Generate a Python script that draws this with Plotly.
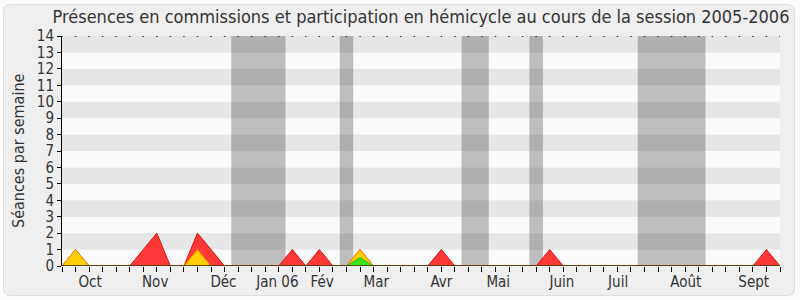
import plotly.graph_objects as go

# ---- data ----
weeks = list(range(0, 54))
red_vals = [0]*54
yellow_vals = [0]*54
green_vals = [0]*54
# red (total présences)
red_points = {1: 1, 6: 1, 7: 2, 10: 2, 11: 1, 17: 1, 19: 1, 22: 1, 28: 1, 36: 1, 52: 1}
yellow_points = {1: 1, 10: 1, 22: 1}
green_points = {22: 0.5}
for k, v in red_points.items():
    red_vals[k] = v
for k, v in yellow_points.items():
    yellow_vals[k] = v
for k, v in green_points.items():
    green_vals[k] = v

vacations = [(12.5, 16.5), (20.5, 21.5), (29.5, 31.5), (34.5, 35.5), (42.5, 47.5)]
month_labels = ["Oct", "Nov", "Déc", "Jan 06", "Fév", "Mar", "Avr", "Mai", "Juin", "Juil", "Août", "Sept"]
month_pos = [2.07, 6.88, 11.92, 15.9, 19.2, 23.2, 28.0, 32.2, 36.9, 41.05, 46.05, 51.06]
y_ticks = list(range(0, 15))

FONT = "DejaVu Sans Condensed, DejaVu Sans, sans-serif"

# layout geometry
W, H = 800, 300
L, R, T, B = 62, 20, 36, 34
pw, ph = W - L - R, H - T - B

def px_to_paper(x, y):
    return (x - L) / pw, (H - B - y) / ph

fig = go.Figure()

shapes = []
# rounded background panel
x0, y0, x1, y1, r = 3.5, 4.5, 794.5, 295.5, 7
def P(x, y):
    a, b = px_to_paper(x, y)
    return f"{a:.5f},{b:.5f}"
path = (f"M {P(x0+r, y0)} L {P(x1-r, y0)} Q {P(x1, y0)} {P(x1, y0+r)} "
        f"L {P(x1, y1-r)} Q {P(x1, y1)} {P(x1-r, y1)} L {P(x0+r, y1)} "
        f"Q {P(x0, y1)} {P(x0, y1-r)} L {P(x0, y0+r)} Q {P(x0, y0)} {P(x0+r, y0)} Z")
shapes.append(dict(type="path", xref="paper", yref="paper", path=path,
                   fillcolor="#efefef", line=dict(color="#dedede", width=1), layer="below"))
# plot background stripes
for i in range(14):
    shapes.append(dict(type="rect", xref="x", yref="y", x0=0, x1=53, y0=i, y1=i + 1,
                       fillcolor="#fafafa" if i % 2 == 0 else "#e6e6e6",
                       line=dict(width=0), layer="below"))
for a, b in vacations:
    shapes.append(dict(type="rect", xref="x", yref="y", x0=a, x1=b, y0=0, y1=14,
                       fillcolor="rgba(50,50,50,0.3)", line=dict(width=0), layer="below"))

fig.add_trace(go.Scatter(x=weeks, y=red_vals, mode="lines", fill="tozeroy",
                         fillcolor="rgba(255,45,45,0.95)", line=dict(color="#e01010", width=1),
                         hoverinfo="skip"))
fig.add_trace(go.Scatter(x=weeks, y=yellow_vals, mode="lines", fill="tozeroy",
                         fillcolor="rgba(255,215,0,0.95)", line=dict(color="#ff8c00", width=1),
                         hoverinfo="skip"))
fig.add_trace(go.Scatter(x=weeks, y=green_vals, mode="lines", fill="tozeroy",
                         fillcolor="rgba(60,230,30,1)", line=dict(color="#22bb22", width=1),
                         hoverinfo="skip"))
# baseline
fig.add_trace(go.Scatter(x=[0, 53], y=[0, 0], mode="lines",
                         line=dict(color="#5a1a0a", width=1.5), hoverinfo="skip"))
# dotted top gridline
fig.add_trace(go.Scatter(x=weeks, y=[14]*len(weeks), mode="markers",
                         marker=dict(symbol="square", size=1.5, color="#000"),
                         hoverinfo="skip"))

yt_x, _ = px_to_paper(18, 0)
fig.update_layout(
    width=W, height=H, margin=dict(l=L, r=R, t=T, b=B, autoexpand=False),
    paper_bgcolor="#fbfbfb", plot_bgcolor="rgba(0,0,0,0)",
    showlegend=False, shapes=shapes,
    title=dict(text="Présences en commissions et participation en hémicycle au cours de la session 2005-2006",
               x=0.5, xref="paper", xanchor="center", y=1 - 17/H, yanchor="middle",
               font=dict(family=FONT, size=18, color="#333")),
    font=dict(family=FONT, color="#333"),
    annotations=[dict(text="Séances par semaine", xref="paper", yref="paper", x=yt_x, y=0.5,
                      xanchor="center", yanchor="middle", textangle=-90, showarrow=False,
                      font=dict(family=FONT, size=16, color="#333"))],
)
fig.update_xaxes(range=[0, 53], tickmode="array", tickvals=month_pos, ticktext=month_labels,
                 ticks="", showgrid=False, zeroline=False, showline=False, automargin=False,
                 ticklabelstandoff=5,
                 tickfont=dict(size=15, color="#333"),
                 minor=dict(tickmode="array", tickvals=weeks, ticks="outside", ticklen=5,
                            tickcolor="#000", showgrid=False))
fig.update_yaxes(range=[0, 14], tickmode="array", tickvals=y_ticks, ticks="outside", ticklen=4,
                 tickcolor="#000", showline=True, linecolor="#000", linewidth=1, automargin=False,
                 showgrid=False, zeroline=False, tickfont=dict(size=15, color="#333"))

fig.write_html("out.html")
